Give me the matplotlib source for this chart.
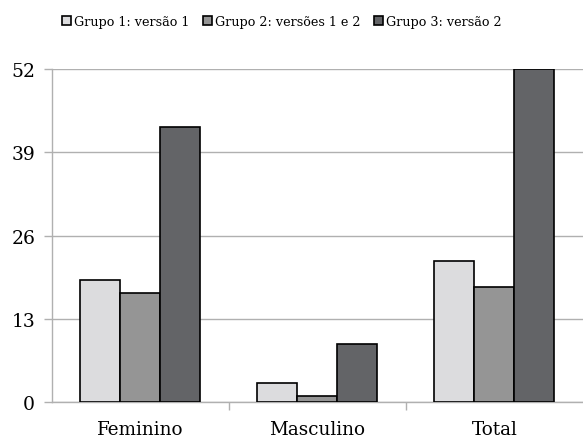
import matplotlib
matplotlib.use("Agg")
import matplotlib.pyplot as plt
import numpy as np

categorias = ["Feminino", "Masculino", "Total"]
grupos = ["Grupo 1: versão 1", "Grupo 2: versões 1 e 2", "Grupo 3: versão 2"]
grupo1 = [19, 3, 22]
grupo2 = [17, 1, 18]
grupo3 = [43, 9, 52]
yticks = [0, 13, 26, 39, 52]

cores = ["#dcdcde", "#959595", "#636467"]

plt.rcParams["font.family"] = "DejaVu Serif"

fig = plt.figure(figsize=(5.83, 4.39), dpi=100)
ax = fig.add_axes([0.089, 0.082, 0.911, 0.7585])

x = np.arange(len(categorias))
w = 0.226
for i, (vals, nome) in enumerate(zip([grupo1, grupo2, grupo3], grupos)):
    ax.bar(x + (i - 1) * w, vals, w, color=cores[i], edgecolor="black",
           linewidth=1.2, label=nome, zorder=3)

ax.set_xlim(-0.5, 2.5)
ax.set_ylim(0, 52)
ax.set_yticks(yticks)
ax.set_xticks(x)
ax.set_xticklabels(categorias, fontsize=13.2)
ax.set_xticks([0.5, 1.5], minor=True)
ax.tick_params(axis="x", which="major", length=0, pad=13)
ax.tick_params(axis="x", which="minor", length=6, color="#b0b0b0", width=1, direction="out")
ax.tick_params(axis="y", length=6, color="#b0b0b0", width=1, labelsize=13.5, pad=6)
ax.yaxis.grid(True, color="#b0b0b0", linewidth=1, zorder=0)

for s in ["top", "right"]:
    ax.spines[s].set_visible(False)
for s in ["left", "bottom"]:
    ax.spines[s].set_color("#b0b0b0")
    ax.spines[s].set_linewidth(1)

fig.legend(loc="upper center", bbox_to_anchor=(0.483, 0.99), ncol=3, frameon=False,
           fontsize=9.2, handlelength=0.75, handleheight=0.75, handletextpad=0.2,
           columnspacing=1.05)

fig.savefig("out.png", dpi=100)
